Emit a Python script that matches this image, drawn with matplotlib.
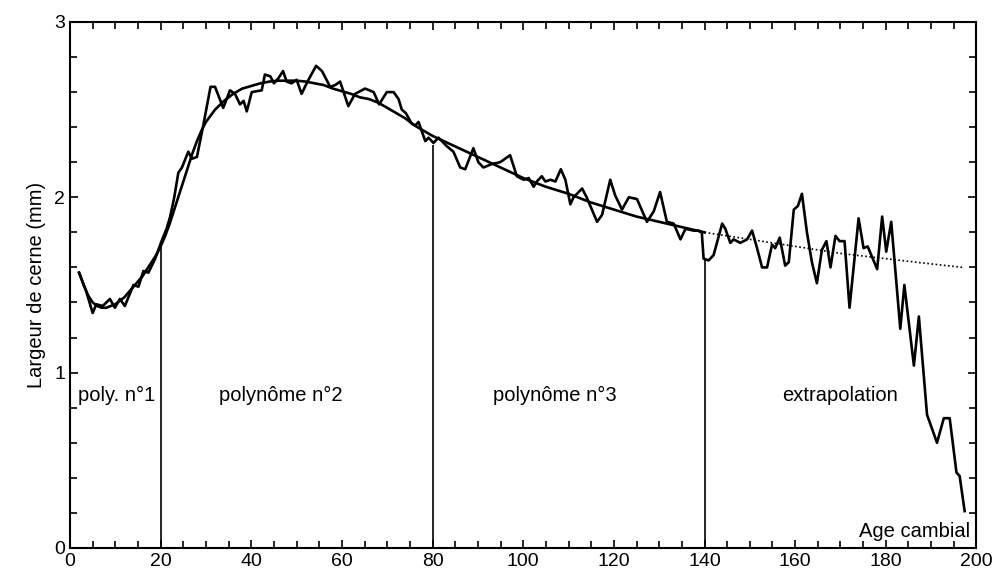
import matplotlib
matplotlib.use("Agg")
import matplotlib.pyplot as plt
from matplotlib.ticker import MultipleLocator

plt.rcParams['font.family'] = ['Liberation Sans', 'DejaVu Sans']

raw_age = [2, 3.5, 5, 5.8, 7.2, 8.8, 9.9, 11, 12.1, 14, 15.1, 16.2, 17.3, 18.8,
           20.2, 21.3, 22.1, 23, 23.9, 24.7, 26.1, 26.9, 28, 29.4, 31, 32, 33.8,
           35.3, 36.4, 37.5, 38.3, 39, 40.1, 42.3, 43, 44.2, 45, 46, 47, 47.8,
           48.9, 50, 51.1, 52.4, 54.3, 55.6, 57.4, 58.5, 59.6, 61.4, 62.9, 65.1,
           67, 68.2, 69.9, 71.4, 72.5, 73.2, 74.1, 75.4, 76.2, 76.9, 78.4, 79.1,
           80.2, 81.3, 83.2, 84.6, 86.1, 87.2, 89, 90.1, 91.2, 93.1, 94.9, 97.1,
           98.6, 100.1, 101.2, 102.3, 103, 104.1, 104.9, 106, 107.1, 108.3,
           109.3, 110.4, 111.1, 113, 114, 116.3, 117.4, 119.2, 120.3, 121.8,
           123.3, 125.1, 127.3, 128.8, 130.2, 131.7, 133.2, 134.7, 135.8, 137.6,
           138.7, 139.4, 139.8, 140.9, 142, 143.9, 144.6, 145.7, 146.4, 147.9,
           149.4, 150.5, 151.6, 152.7, 153.8, 154.9, 155.6, 156.6, 157.8, 158.6,
           159.7, 160.6, 161.5, 162.6, 163.7, 164.8, 165.9, 166.9, 167.8, 168.9,
           169.8, 170.9, 172, 174, 175.1, 176, 178.1, 179.2, 180.1, 181.2, 183.2,
           184.1, 186.2, 187.3, 189.1, 191.3, 192.8, 194.1, 195.6, 196.3, 197.4]
raw_width = [1.57, 1.47, 1.34, 1.39, 1.38, 1.42, 1.37, 1.42, 1.38, 1.50, 1.49,
             1.58, 1.57, 1.65, 1.75, 1.82, 1.89, 2.00, 2.14, 2.17, 2.26, 2.22,
             2.23, 2.41, 2.63, 2.63, 2.51, 2.61, 2.59, 2.53, 2.55, 2.49, 2.60,
             2.61, 2.70, 2.69, 2.65, 2.68, 2.72, 2.66, 2.65, 2.67, 2.59, 2.66,
             2.75, 2.72, 2.63, 2.64, 2.66, 2.52, 2.59, 2.62, 2.60, 2.53, 2.60,
             2.60, 2.56, 2.50, 2.48, 2.42, 2.41, 2.43, 2.32, 2.34, 2.31, 2.34,
             2.29, 2.26, 2.17, 2.16, 2.28, 2.20, 2.17, 2.19, 2.20, 2.24, 2.12,
             2.10, 2.11, 2.06, 2.09, 2.12, 2.09, 2.10, 2.09, 2.16, 2.10, 1.96,
             2.00, 2.05, 2.00, 1.86, 1.90, 2.10, 2.01, 1.93, 2.00, 1.99, 1.86,
             1.92, 2.03, 1.86, 1.85, 1.76, 1.82, 1.81, 1.81, 1.80, 1.65, 1.64,
             1.67, 1.85, 1.82, 1.74, 1.76, 1.74, 1.76, 1.81, 1.71, 1.60, 1.60,
             1.73, 1.71, 1.77, 1.61, 1.63, 1.93, 1.95, 2.02, 1.80, 1.63, 1.51,
             1.70, 1.75, 1.60, 1.78, 1.75, 1.75, 1.37, 1.88, 1.71, 1.72, 1.59,
             1.89, 1.69, 1.86, 1.25, 1.50, 1.04, 1.32, 0.76, 0.60, 0.74, 0.74,
             0.43, 0.41, 0.21]

## Courbe ajustee (3 polynomes)
fit_age = [2, 3, 4, 5, 6, 7, 8, 9, 10, 11, 12, 13, 14, 15, 16, 17, 18, 19, 20,
           21, 22, 23, 24, 25, 26, 27, 28, 29, 30, 32, 34, 36, 38, 40, 42, 44,
           46, 48, 50, 52, 54, 56, 58, 60, 62, 64, 66, 68, 70, 72, 74, 76, 78,
           80, 85, 90, 95, 100, 105, 110, 115, 120, 125, 130, 135, 140]
fit_width = [1.57, 1.50, 1.44, 1.40, 1.38, 1.37, 1.37, 1.38, 1.39, 1.41, 1.43,
             1.46, 1.49, 1.52, 1.55, 1.59, 1.63, 1.67, 1.72, 1.78, 1.85, 1.93,
             2.01, 2.09, 2.17, 2.25, 2.32, 2.38, 2.43, 2.50, 2.55, 2.59, 2.62,
             2.635, 2.65, 2.66, 2.665, 2.665, 2.665, 2.66, 2.65, 2.64, 2.62,
             2.605, 2.59, 2.57, 2.56, 2.54, 2.51, 2.48, 2.45, 2.41, 2.38, 2.35,
             2.29, 2.23, 2.17, 2.11, 2.06, 2.02, 1.97, 1.93, 1.89, 1.86, 1.83,
             1.80]

## Extrapolation du polynome n°3
ext_age = [140, 150, 160, 170, 180, 190, 197]
ext_width = [1.80, 1.76, 1.72, 1.68, 1.65, 1.62, 1.60]

## Limites des segments et etiquettes
seg_age = [20, 80, 140]
seg_top = [1.72, 2.30, 1.64]
seg_names = ["poly. n°1", "polynôme n°2", "polynôme n°3", "extrapolation"]
seg_label_x = [10.2, 46.5, 107, 170]

fig = plt.figure(figsize=(10.06, 5.78), dpi=100)
ax = fig.add_axes([0.0696, 0.052, 0.901, 0.910])

ax.plot(raw_age, raw_width, color="black", lw=1.9)
ax.plot(fit_age, fit_width, color="black", lw=1.9)
ax.plot(ext_age, ext_width, color="black", lw=1.2, ls=(0, (1, 1.5)))
ax.vlines(seg_age, 0, seg_top, color="black", lw=1.2)

for name, xpos in zip(seg_names, seg_label_x):
    ax.text(xpos, 0.87, name, ha="center", va="center", fontsize=14.5)

ax.text(198.5, 0.04, "Age cambial", ha="right", va="bottom", fontsize=14.5)
ax.set_ylabel("Largeur de cerne (mm)", fontsize=14.5, labelpad=6)

ax.set_xlim(0, 200)
ax.set_ylim(0, 3)
ax.xaxis.set_major_locator(MultipleLocator(20))
ax.xaxis.set_minor_locator(MultipleLocator(5))
ax.yaxis.set_major_locator(MultipleLocator(1))
ax.yaxis.set_minor_locator(MultipleLocator(0.2))
ax.tick_params(which="both", direction="in", top=True, right=True,
               labelsize=14, width=1.2)
ax.tick_params(which="major", length=6)
ax.tick_params(which="minor", length=5)
for s in ax.spines.values():
    s.set_linewidth(1.5)

fig.savefig("out.png", dpi=100)
